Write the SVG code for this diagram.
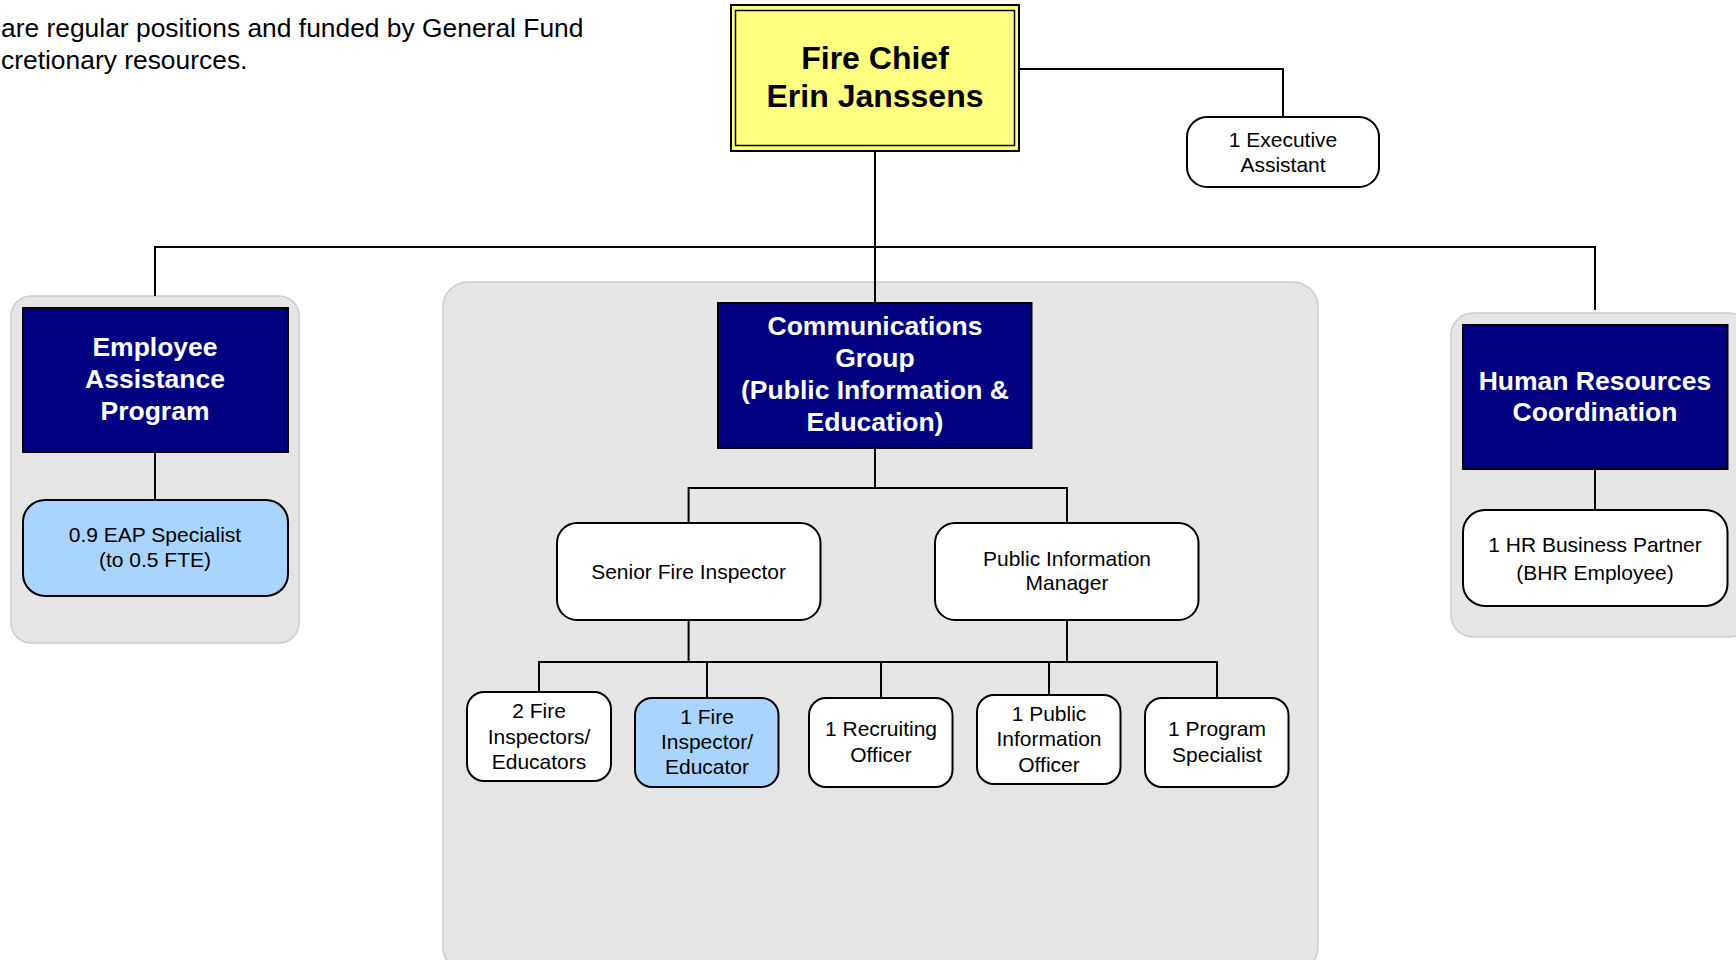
<svg xmlns="http://www.w3.org/2000/svg" width="1736" height="960" viewBox="0 0 1736 960">
<style>
.bg{fill:#ffffff}
.panel{fill:#e5e5e5;stroke:#cccccc;stroke-width:1.5}
.navy{fill:#000080;stroke:#000000;stroke-width:2}
.pos{fill:#ffffff;stroke:#000000;stroke-width:2}
.blue{fill:#a9d4fd;stroke:#000000;stroke-width:2}
.hdr{font-family:"Liberation Sans",Arial,sans-serif;font-weight:bold;font-size:26.5px;fill:#ffffff;text-anchor:middle}
.lbl{font-family:"Liberation Sans",Arial,sans-serif;font-size:21px;fill:#000000;text-anchor:middle}
.note{font-family:"Liberation Sans",Arial,sans-serif;font-size:26.4px;fill:#000000}
.chief{font-family:"Liberation Sans",Arial,sans-serif;font-weight:bold;font-size:32px;fill:#000000;text-anchor:middle}
.conn{fill:none;stroke:#000000;stroke-width:2}
</style>
<rect class="bg" x="0" y="0" width="1736" height="960"/>

<g id="note">
<text class="note" x="1" y="37">are regular positions and funded by General Fund</text>
<text class="note" x="1" y="69">cretionary resources.</text>
</g>

<g id="panels">
<rect class="panel" x="11" y="296" width="288" height="347" rx="20"/>
<rect class="panel" x="443" y="282" width="875" height="690" rx="25"/>
<rect class="panel" x="1451" y="313" width="300" height="324" rx="22"/>
</g>

<g id="connectors">
<path class="conn" d="M875 151 V303"/>
<path class="conn" d="M1019 69 H1283 V117"/>
<path class="conn" d="M155 296 V247 H1595 V310"/>
<path class="conn" d="M155 452 V500"/>
<path class="conn" d="M1595 469 V510"/>
<path class="conn" d="M875 448 V488 M688.6 523 V488 H1067 V523"/>
<path class="conn" d="M688.6 620 V662 M1067 620 V662 M539 692 V662 H1217 V698 M707 662 V698 M881 662 V698 M1049 662 V695"/>
</g>

<g id="fire-chief">
<rect x="731" y="5" width="288" height="146" fill="#ffff80" stroke="#000000" stroke-width="2"/>
<rect x="735.5" y="10.5" width="279" height="135" fill="none" stroke="#000000" stroke-width="1.5"/>
<text class="chief" x="875" y="69">Fire Chief</text>
<text class="chief" x="875" y="107">Erin Janssens</text>
</g>

<g id="exec-assistant">
<rect class="pos" x="1187" y="117" width="192" height="70" rx="20"/>
<text class="lbl" x="1283" y="147">1 Executive</text>
<text class="lbl" x="1283" y="172">Assistant</text>
</g>

<g id="eap">
<rect class="navy" x="23" y="308" width="265" height="144"/>
<text class="hdr" x="155" y="356">Employee</text>
<text class="hdr" x="155" y="388">Assistance</text>
<text class="hdr" x="155" y="420">Program</text>
</g>

<g id="eap-specialist">
<rect class="blue" x="23" y="500" width="265" height="96" rx="22"/>
<text class="lbl" x="155" y="542">0.9 EAP Specialist</text>
<text class="lbl" x="155" y="567">(to 0.5 FTE)</text>
</g>

<g id="communications">
<rect class="navy" x="718" y="303" width="313.5" height="145"/>
<text class="hdr" x="875" y="334.5">Communications</text>
<text class="hdr" x="875" y="366.5">Group</text>
<text class="hdr" x="875" y="398.5">(Public Information &amp;</text>
<text class="hdr" x="875" y="430.5">Education)</text>
</g>

<g id="senior-fire-inspector">
<rect class="pos" x="557" y="523" width="263.5" height="97" rx="20"/>
<text class="lbl" x="688.6" y="578.5">Senior Fire Inspector</text>
</g>

<g id="public-information-manager">
<rect class="pos" x="935" y="523" width="263.5" height="97" rx="20"/>
<text class="lbl" x="1067" y="566">Public Information</text>
<text class="lbl" x="1067" y="590">Manager</text>
</g>

<g id="fire-inspectors-educators">
<rect class="pos" x="467" y="692" width="144" height="89" rx="17"/>
<text class="lbl" x="539" y="718">2 Fire</text>
<text class="lbl" x="539" y="743.5">Inspectors/</text>
<text class="lbl" x="539" y="769">Educators</text>
</g>

<g id="fire-inspector-educator">
<rect class="blue" x="635" y="698" width="143.5" height="89" rx="17"/>
<text class="lbl" x="707" y="723.5">1 Fire</text>
<text class="lbl" x="707" y="748.5">Inspector/</text>
<text class="lbl" x="707" y="774">Educator</text>
</g>

<g id="recruiting-officer">
<rect class="pos" x="809" y="698" width="143.5" height="89" rx="17"/>
<text class="lbl" x="881" y="736">1 Recruiting</text>
<text class="lbl" x="881" y="761.5">Officer</text>
</g>

<g id="public-information-officer">
<rect class="pos" x="977" y="695" width="143.5" height="89" rx="17"/>
<text class="lbl" x="1049" y="721">1 Public</text>
<text class="lbl" x="1049" y="746">Information</text>
<text class="lbl" x="1049" y="771.5">Officer</text>
</g>

<g id="program-specialist">
<rect class="pos" x="1145" y="698" width="143.5" height="89" rx="17"/>
<text class="lbl" x="1217" y="736">1 Program</text>
<text class="lbl" x="1217" y="761.5">Specialist</text>
</g>

<g id="hr-coordination">
<rect class="navy" x="1463" y="325" width="264.5" height="144"/>
<text class="hdr" x="1595" y="389.5">Human Resources</text>
<text class="hdr" x="1595" y="420.5">Coordination</text>
</g>

<g id="hr-business-partner">
<rect class="pos" x="1463" y="510" width="264.5" height="96" rx="22"/>
<text class="lbl" x="1595" y="552">1 HR Business Partner</text>
<text class="lbl" x="1595" y="579.5">(BHR Employee)</text>
</g>
</svg>
